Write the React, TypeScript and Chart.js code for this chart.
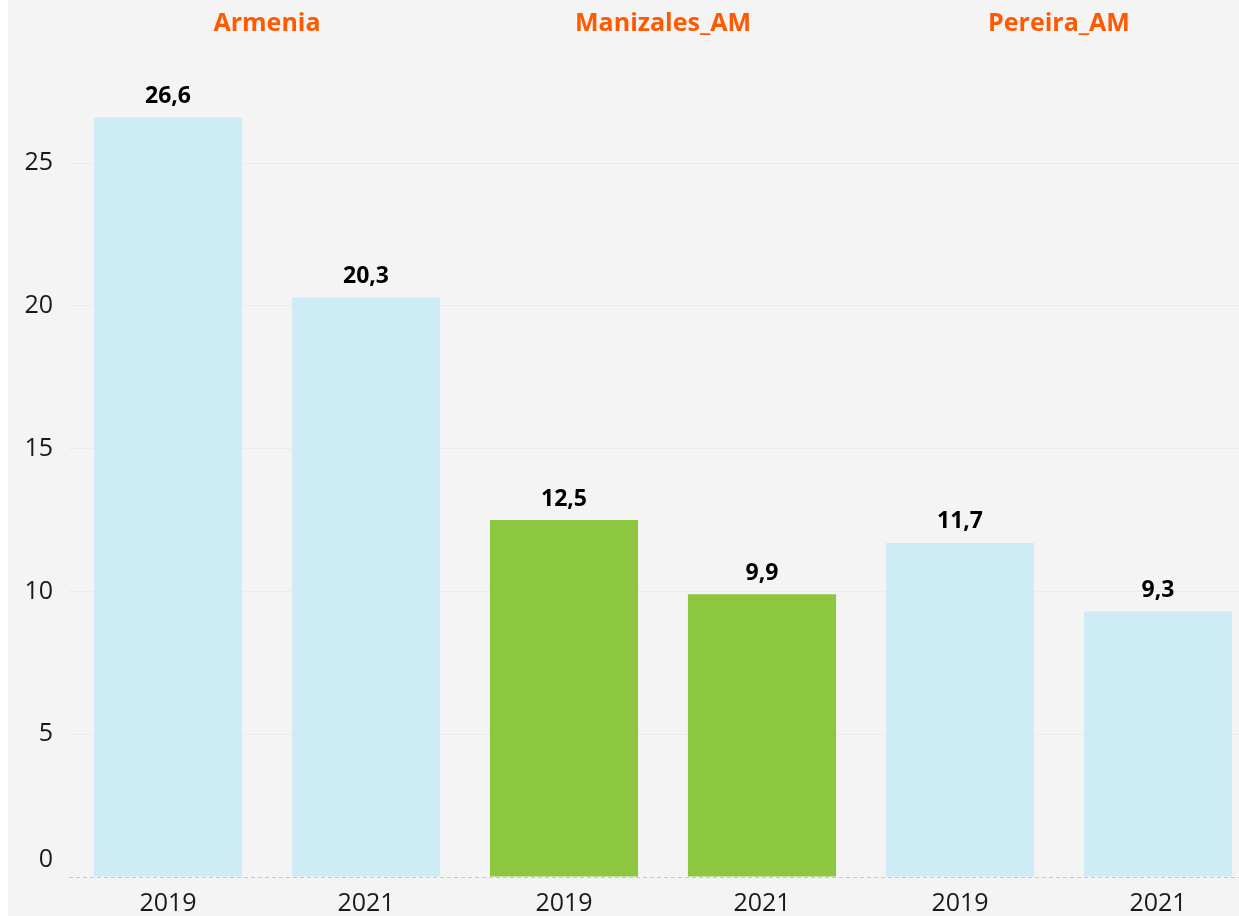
import React, { useEffect, useRef } from "react";
import { Chart, registerables } from "chart.js";

Chart.register(...registerables);

const years = ["2019", "2021", "2019", "2021", "2019", "2021"];
const groups = ["Armenia", "Manizales_AM", "Pereira_AM"];
const values = [26.6, 20.3, 12.5, 9.9, 11.7, 9.3];
const barColors = ["#cdecf5", "#cdecf5", "#8dc63f", "#8dc63f", "#cdecf5", "#cdecf5"];
const yTicks = [0, 5, 10, 15, 20, 25];

const FONT = "'Open Sans', 'Noto Sans', sans-serif";

const decorPlugin = {
  id: "decor",
  beforeDraw(chart: any) {
    const { ctx, width, height } = chart;
    ctx.save();
    ctx.fillStyle = "#f4f4f4";
    ctx.fillRect(0, 0, width, height);
    ctx.restore();
  },
  afterDatasetsDraw(chart: any) {
    const { ctx, chartArea } = chart;
    const meta = chart.getDatasetMeta(0);
    const xs = chart.scales.x;
    const ys = chart.scales.y;
    ctx.save();
    // dashed zero baseline
    const y0 = Math.round(ys.getPixelForValue(0)) + 0.5;
    ctx.strokeStyle = "#c8c8c8";
    ctx.lineWidth = 1;
    ctx.setLineDash([4, 3]);
    ctx.beginPath();
    ctx.moveTo(chartArea.left, y0);
    ctx.lineTo(chartArea.right, y0);
    ctx.stroke();
    ctx.setLineDash([]);

    ctx.textAlign = "center";
    ctx.textBaseline = "middle";
    ctx.fillStyle = "#000000";
    ctx.font = `bold 23px ${FONT}`;
    meta.data.forEach((bar: any, i: number) => {
      const v = values[i];
      ctx.fillText(v.toFixed(1).replace(".", ","), bar.x, bar.y - 21);
    });
    ctx.fillStyle = "#ff5a00";
    ctx.font = `bold 25px ${FONT}`;
    groups.forEach((g, gi) => {
      const x = (xs.getPixelForValue(gi * 2) + xs.getPixelForValue(gi * 2 + 1)) / 2;
      ctx.fillText(g, x, 24);
    });
    // zero tick label, lifted above the baseline as in the reference
    ctx.fillStyle = "#1a1a1a";
    ctx.font = `25px ${FONT}`;
    ctx.textAlign = "right";
    ctx.fillText("0", ys.right - 16, ys.getPixelForValue(0) - 17);
    ctx.restore();
  },
};

export default function App() {
  const ref = useRef<HTMLCanvasElement>(null);
  useEffect(() => {
    if (!ref.current) return;
    const chart = new Chart(ref.current, {
      type: "bar",
      data: {
        labels: years,
        datasets: [
          {
            data: values,
            backgroundColor: barColors,
            borderWidth: 0,
            categoryPercentage: 1,
            barPercentage: 0.748,
          },
        ],
      },
      options: {
        animation: false,
        responsive: true,
        maintainAspectRatio: false,
        layout: { padding: { top: 49, right: 0, left: 0, bottom: 0 } },
        plugins: {
          legend: { display: false },
          tooltip: { enabled: false },
        },
        scales: {
          x: {
            grid: { display: false, drawTicks: false },
            border: { display: false },
            ticks: {
              color: "#1a1a1a",
              font: { family: FONT, size: 25 },
              padding: 12,
              maxRotation: 0,
              autoSkip: false,
            },
            afterFit(scale: any) {
              scale.height = 39;
            },
          },
          y: {
            min: 0,
            max: 29,
            afterBuildTicks(scale: any) {
              scale.ticks = yTicks.map((v) => ({ value: v }));
            },
            grid: {
              drawTicks: false,
              color: (c: any) => (c.tick && c.tick.value === 0 ? "rgba(0,0,0,0)" : "#ebebeb"),
              lineWidth: 1,
            },
            border: { display: false },
            ticks: {
              color: "#1a1a1a",
              font: { family: FONT, size: 25 },
              padding: 16,
              callback: (v: any) => (v === 0 ? "" : String(v)),
            },
            afterFit(scale: any) {
              scale.width = 61;
            },
          },
        },
      },
      plugins: [decorPlugin],
    });
    return () => chart.destroy();
  }, []);
  return (
    <div
      style={{
        position: "fixed",
        top: 0,
        left: 8,
        width: 1231,
        height: 916,
        overflow: "hidden",
        background: "#f4f4f4",
      }}
    >
      <div style={{ position: "relative", width: 1249, height: 916 }}>
        <canvas ref={ref} />
      </div>
    </div>
  );
}
